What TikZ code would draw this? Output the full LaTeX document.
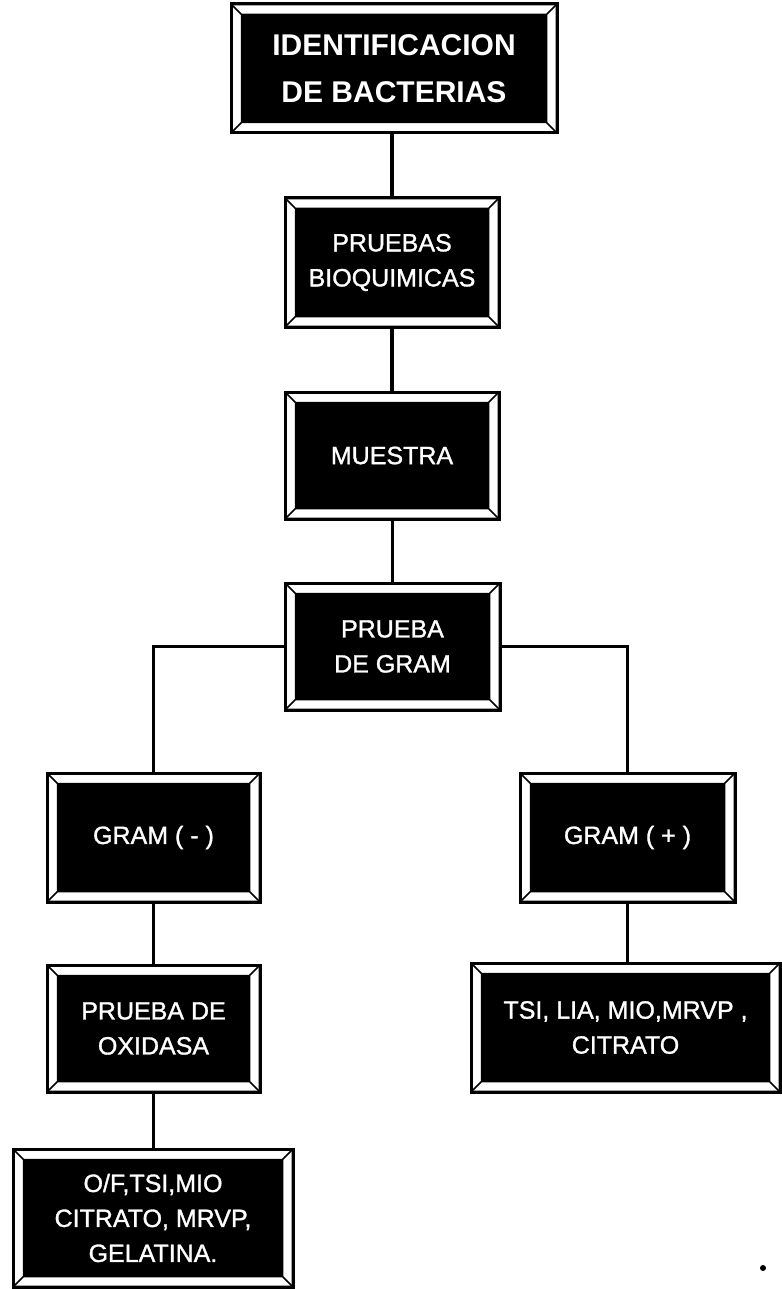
\documentclass[tikz,border=0pt]{standalone}
\usepackage{fontspec}
\setmainfont{Liberation Sans}
\newfontfamily\boxfont[FakeBold=1.2]{Liberation Sans}
\usetikzlibrary{calc}
\tikzset{
  bev/.style={draw=black, line width=3pt, fill=black, text=white, align=center, inner sep=0pt,
    font=\boxfont\fontsize{25}{35}\selectfont,
    path picture={
      \fill[white, even odd rule]
        ($(path picture bounding box.south west)+(1.5pt,1.5pt)$) rectangle ($(path picture bounding box.north east)-(1.5pt,1.5pt)$)
        ($(path picture bounding box.south west)+(10.5pt,10.5pt)$) rectangle ($(path picture bounding box.north east)-(10.5pt,10.5pt)$);
      \draw[black, line width=1.5pt]
        ($(path picture bounding box.south west)+(10.5pt,10.5pt)$) rectangle ($(path picture bounding box.north east)-(10.5pt,10.5pt)$)
        ($(path picture bounding box.south west)+(1pt,1pt)$) -- ($(path picture bounding box.south west)+(10.5pt,10.5pt)$)
        ($(path picture bounding box.north east)-(1pt,1pt)$) -- ($(path picture bounding box.north east)-(10.5pt,10.5pt)$)
        ($(path picture bounding box.north west)+(1pt,-1pt)$) -- ($(path picture bounding box.north west)+(10.5pt,-10.5pt)$)
        ($(path picture bounding box.south east)+(-1pt,1pt)$) -- ($(path picture bounding box.south east)+(-10.5pt,10.5pt)$);
    }},
  titlefont/.style={font=\fontsize{30}{47}\selectfont\bfseries},
  conn/.style={draw=black, line width=3.4pt},
}
\begin{document}
\begin{tikzpicture}[x=1pt, y=-1pt]
\useasboundingbox (0,0) rectangle (781,1289);
\fill[white] (0,0) rectangle (781,1289);

\node[bev, titlefont, minimum width=326pt, minimum height=129pt] (t) at (394,68.5) {IDENTIFICACION\\DE BACTERIAS};
\node[bev, minimum width=214pt, minimum height=129pt] (p) at (392,262.5) {PRUEBAS\\BIOQUIMICAS};
\node[bev, minimum width=214pt, minimum height=127pt] (m) at (392,455.5) {MUESTRA};
\node[bev, minimum width=215pt, minimum height=127pt] (g) at (392.5,646.5) {PRUEBA\\DE GRAM};
\node[bev, minimum width=213pt, minimum height=129pt] (gm) at (153.5,837.5) {GRAM ( - )};
\node[bev, minimum width=215pt, minimum height=129pt] (gp) at (627.5,837.5) {GRAM ( + )};
\node[bev, minimum width=213pt, minimum height=127pt] (ox) at (153.5,1028.5) {PRUEBA DE\\OXIDASA};
\node[bev, minimum width=309pt, minimum height=129pt] (ts) at (625.5,1027.5) {TSI, LIA, MIO,MRVP ,\\CITRATO};
\node[bev, minimum width=280pt, minimum height=138pt] (of) at (153,1218) {O/F,TSI,MIO\\CITRATO, MRVP,\\GELATINA.};

\draw[conn] (p.north) -- (p.north |- t.south);
\draw[conn] (m.north) -- (m.north |- p.south);
\draw[conn] (g.north) -- (g.north |- m.south);
\draw[conn] (g.west) -| (gm.north);
\draw[conn] (g.east) -| (gp.north);
\draw[conn] (gm.south) -- (ox.north);
\draw[conn] (gp.south) -- (gp.south |- ts.north);
\draw[conn] (ox.south) -- (of.north -| ox.south);

\fill[black] (763,1268) circle (3pt);
\end{tikzpicture}
\end{document}
